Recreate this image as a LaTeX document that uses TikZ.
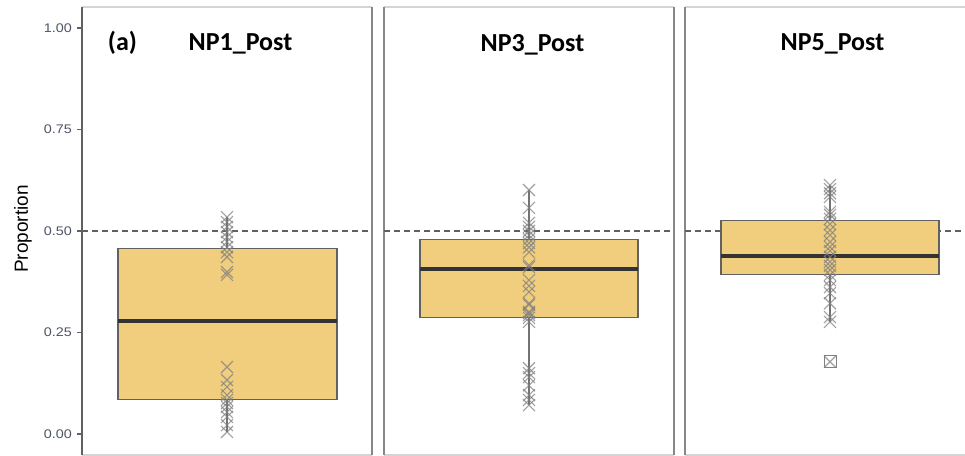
\documentclass[tikz,border=0pt]{standalone}
\usepackage{fontspec}
\newfontfamily\titlefont{Carlito}
\newfontfamily\axisfont{Liberation Sans}
\begin{document}
\begin{tikzpicture}[x=1pt,y=-1pt,
  frameside/.style={draw=black!47,line width=1.8pt},
  frametop/.style={draw=black!17,line width=2.6pt},
  boxfill/.style={fill=boxgold,draw=black!62,line width=1.1pt},
  medianline/.style={draw=black!80,line width=3.6pt},
  whisk/.style={draw=black!55,line width=1.4pt},
  refline/.style={draw=black!62,line width=1.2pt,dash pattern=on 6pt off 4pt},
  xmk/.style={draw=black!50,line width=1.1pt,draw opacity=0.75},
  ticklab/.style={font=\axisfont\fontsize{12.5}{14}\selectfont,text=ticktext,anchor=east,inner sep=0pt,xscale=1.15,transform shape},
  paneltitle/.style={font=\titlefont\bfseries\fontsize{26}{30}\selectfont,anchor=base,inner sep=0pt}]
\definecolor{boxgold}{HTML}{F1CE7D}
\definecolor{ticktext}{HTML}{4F5566}
\useasboundingbox (0,0) rectangle (965,455);
% value -> pixel row
\def\vy#1{434-406*#1}
% one cross marker
\newcommand\xmark[2]{\draw[xmk] (#1-6,{\vy{#2}-6}) -- (#1+6,{\vy{#2}+6}) (#1-6,{\vy{#2}+6}) -- (#1+6,{\vy{#2}-6});}

% panel frames
\foreach \l/\r in {82/372,384/674,685/975}{
  \draw[frametop] (\l,7) -- (\r,7);
  \draw[frametop] (\l,455) -- (\r,455);
  \draw[frameside] (\l,7) -- (\l,455);
  \draw[frameside] (\r,7) -- (\r,455);
}
\draw[draw=black!62,line width=1.8pt] (82,7) -- (82,455);

% y axis ticks and labels
\foreach \v/\t in {0/0.00,0.25/0.25,0.5/0.50,0.75/0.75,1/1.00}{
  \draw[draw=black!62,line width=1.2pt] (77,{\vy{\v}}) -- (82,{\vy{\v}});
  \node[ticklab] (tick\t) at (72,{\vy{\v}}) {\t};
}
\node[font=\axisfont\fontsize{19}{22}\selectfont,rotate=90,inner sep=0pt] (ylab) at (23,229) {Proportion};

% reference line at 0.5
\foreach \l/\r in {82/372,384/674,685/965}{
  \draw[refline] (\l,{\vy{0.5}}) -- (\r,{\vy{0.5}});
}

% ---- NP1_Post
\draw[whisk] (227,{\vy{0.534}}) -- (227,{\vy{0.005}});
\draw[boxfill] (118,{\vy{0.458}}) rectangle (337,{\vy{0.084}});
\draw[medianline] (118,{\vy{0.278}}) -- (337,{\vy{0.278}});
\foreach \v in {0.534,0.522,0.51,0.497,0.485,0.473,0.46,0.448,0.436,0.399,0.392,
                0.165,0.133,0.116,0.096,0.084,0.076,0.067,0.054,0.042,0.022,0.005}{
  \xmark{227}{\v}
}

% ---- NP3_Post
\draw[whisk] (529,{\vy{0.601}}) -- (529,{\vy{0.071}});
\draw[boxfill] (420,{\vy{0.478}}) rectangle (638,{\vy{0.286}});
\draw[medianline] (420,{\vy{0.406}}) -- (638,{\vy{0.406}});
\foreach \v in {0.601,0.557,0.52,0.51,0.5,0.49,0.48,0.47,0.46,0.448,0.416,0.411,
                0.379,0.365,0.35,0.322,0.301,0.293,0.318,0.298,0.286,0.276,
                0.162,0.15,0.14,0.12,0.096,0.084,0.071}{
  \xmark{529}{\v}
}

% ---- NP5_Post
\draw[whisk] (830,{\vy{0.613}}) -- (830,{\vy{0.276}});
\draw[boxfill] (721,{\vy{0.525}}) rectangle (939,{\vy{0.392}});
\draw[medianline] (721,{\vy{0.438}}) -- (939,{\vy{0.438}});
\foreach \v in {0.613,0.603,0.593,0.584,0.547,0.54,0.53,0.517,0.502,0.49,0.473,0.461,
                0.451,0.436,0.424,0.414,0.404,0.392,0.379,0.362,0.347,0.322,0.288,0.276}{
  \xmark{830}{\v}
}
% outlier
\draw[draw=black!50,line width=1pt] (824,{\vy{0.178}-6}) rectangle (836,{\vy{0.178}+6});
\xmark{830}{0.178}

% panel titles
\node[paneltitle] (tag) at (122.5,50) {(a)};
\node[paneltitle] (t1) at (240.5,50) {NP1\_Post};
\node[paneltitle] (t3) at (532.5,51) {NP3\_Post};
\node[paneltitle] (t5) at (832.5,50) {NP5\_Post};
\end{tikzpicture}
\end{document}
